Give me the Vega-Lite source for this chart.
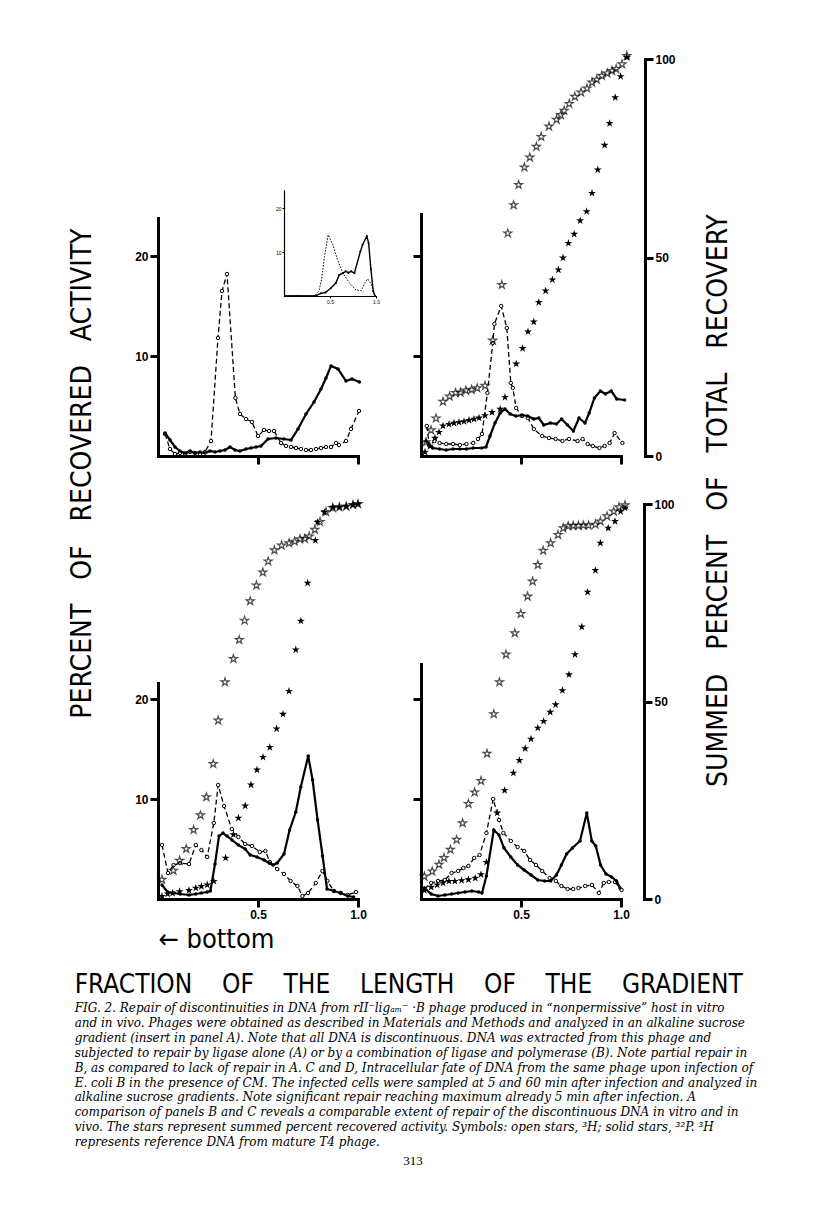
{
  "$schema": "https://vega.github.io/schema/vega-lite/v6.json",
  "background": "white",
  "padding": {"left": 68, "top": 49, "right": 5, "bottom": 5},
  "config": {
    "view": {"stroke": null},
    "axis": {"domainColor": "black", "domainWidth": 3, "tickColor": "black", "tickWidth": 3, "tickSize": 8, "labelColor": "black", "labelFont": "Liberation Sans", "labelFontWeight": "bold", "labelFontSize": 12, "grid": false, "labelPadding": 2, "labelFlush": false, "domainCap": "square"},
    "title": {"color": "black", "fontWeight": "normal", "subtitleColor": "black"}
  },
  "datasets": {
    "A3H": [{"x":0.035,"y":2.2},{"x":0.06,"y":0.7},{"x":0.085,"y":0.2},{"x":0.11,"y":0.3},{"x":0.135,"y":0.2},{"x":0.16,"y":0.4},{"x":0.185,"y":0.3},{"x":0.21,"y":0.2},{"x":0.235,"y":0.4},{"x":0.265,"y":1.5},{"x":0.3,"y":11.8},{"x":0.32,"y":16.5},{"x":0.345,"y":18.2},{"x":0.387,"y":5.8},{"x":0.41,"y":4.2},{"x":0.44,"y":3.7},{"x":0.47,"y":3.4},{"x":0.5,"y":2.0},{"x":0.53,"y":2.6},{"x":0.555,"y":2.5},{"x":0.58,"y":2.5},{"x":0.615,"y":1.3},{"x":0.64,"y":1.0},{"x":0.665,"y":0.9},{"x":0.69,"y":0.8},{"x":0.715,"y":0.7},{"x":0.74,"y":0.6},{"x":0.765,"y":0.6},{"x":0.79,"y":0.7},{"x":0.815,"y":0.8},{"x":0.84,"y":0.9},{"x":0.865,"y":0.9},{"x":0.89,"y":1.3},{"x":0.905,"y":1.1},{"x":0.94,"y":1.5},{"x":0.965,"y":2.7},{"x":1.005,"y":4.5}],
    "A32P": [{"x":0.035,"y":2.3},{"x":0.06,"y":1.6},{"x":0.085,"y":0.9},{"x":0.11,"y":0.5},{"x":0.135,"y":0.3},{"x":0.16,"y":0.5},{"x":0.185,"y":0.3},{"x":0.21,"y":0.4},{"x":0.235,"y":0.3},{"x":0.26,"y":0.5},{"x":0.285,"y":0.4},{"x":0.31,"y":0.5},{"x":0.335,"y":0.6},{"x":0.36,"y":0.9},{"x":0.385,"y":0.6},{"x":0.41,"y":0.5},{"x":0.44,"y":0.7},{"x":0.465,"y":0.8},{"x":0.49,"y":0.9},{"x":0.515,"y":1.0},{"x":0.55,"y":1.7},{"x":0.59,"y":1.8},{"x":0.63,"y":1.7},{"x":0.665,"y":1.6},{"x":0.7,"y":2.7},{"x":0.74,"y":4.2},{"x":0.78,"y":5.4},{"x":0.815,"y":6.7},{"x":0.84,"y":7.8},{"x":0.865,"y":9.0},{"x":0.9,"y":8.7},{"x":0.94,"y":7.5},{"x":0.97,"y":7.7},{"x":1.007,"y":7.4}],
    "I3H": [{"x":0.02,"y":0},{"x":0.06,"y":0},{"x":0.1,"y":0},{"x":0.14,"y":0},{"x":0.18,"y":0},{"x":0.22,"y":0},{"x":0.26,"y":0},{"x":0.3,"y":0},{"x":0.34,"y":0.2},{"x":0.38,"y":1.1},{"x":0.41,"y":4},{"x":0.44,"y":9},{"x":0.48,"y":13.9},{"x":0.53,"y":11.7},{"x":0.58,"y":8.3},{"x":0.64,"y":5.2},{"x":0.71,"y":3.0},{"x":0.78,"y":1.4},{"x":0.84,"y":1.2},{"x":0.88,"y":3.0},{"x":0.91,"y":3.9},{"x":0.95,"y":2.6},{"x":0.98,"y":0.5}],
    "I32P": [{"x":0.02,"y":0},{"x":0.05,"y":0},{"x":0.08,"y":0},{"x":0.11,"y":0},{"x":0.14,"y":0},{"x":0.17,"y":0},{"x":0.2,"y":0},{"x":0.23,"y":0},{"x":0.26,"y":0},{"x":0.29,"y":0},{"x":0.32,"y":0},{"x":0.35,"y":0.1},{"x":0.4,"y":0.6},{"x":0.45,"y":0.8},{"x":0.51,"y":1.8},{"x":0.565,"y":3.0},{"x":0.6,"y":4.8},{"x":0.64,"y":5.2},{"x":0.67,"y":5.6},{"x":0.7,"y":5.3},{"x":0.73,"y":5.6},{"x":0.765,"y":5.2},{"x":0.83,"y":10.1},{"x":0.855,"y":11.7},{"x":0.9,"y":13.6},{"x":0.92,"y":12.0},{"x":0.945,"y":6.0},{"x":0.97,"y":1.1},{"x":0.99,"y":0}],
    "B3H": [{"x":0.029,"y":3.0},{"x":0.042,"y":1.0},{"x":0.067,"y":1.5},{"x":0.093,"y":1.3},{"x":0.126,"y":1.2},{"x":0.16,"y":1.2},{"x":0.194,"y":1.1},{"x":0.227,"y":1.2},{"x":0.261,"y":1.3},{"x":0.285,"y":1.7},{"x":0.305,"y":2.2},{"x":0.332,"y":6.3},{"x":0.359,"y":11.3},{"x":0.367,"y":13.2},{"x":0.401,"y":15.0},{"x":0.429,"y":12.8},{"x":0.449,"y":7.3},{"x":0.459,"y":6.8},{"x":0.476,"y":4.8},{"x":0.505,"y":4.0},{"x":0.534,"y":3.8},{"x":0.564,"y":2.7},{"x":0.606,"y":2.0},{"x":0.64,"y":1.8},{"x":0.673,"y":1.7},{"x":0.707,"y":1.5},{"x":0.74,"y":1.7},{"x":0.783,"y":1.5},{"x":0.808,"y":1.7},{"x":0.833,"y":1.2},{"x":0.859,"y":1.0},{"x":0.892,"y":0.8},{"x":0.918,"y":1.0},{"x":0.943,"y":1.3},{"x":0.968,"y":2.3},{"x":1.007,"y":1.3}],
    "B32P": [{"x":0.025,"y":1.5},{"x":0.059,"y":0.8},{"x":0.093,"y":0.7},{"x":0.126,"y":0.6},{"x":0.16,"y":0.7},{"x":0.194,"y":0.7},{"x":0.227,"y":0.7},{"x":0.261,"y":0.8},{"x":0.303,"y":0.8},{"x":0.325,"y":0.9},{"x":0.345,"y":2.0},{"x":0.37,"y":3.3},{"x":0.396,"y":4.3},{"x":0.42,"y":4.7},{"x":0.446,"y":4.2},{"x":0.475,"y":4.0},{"x":0.505,"y":4.1},{"x":0.534,"y":4.0},{"x":0.564,"y":3.7},{"x":0.589,"y":3.8},{"x":0.614,"y":3.1},{"x":0.648,"y":3.3},{"x":0.677,"y":3.2},{"x":0.703,"y":3.7},{"x":0.732,"y":3.1},{"x":0.762,"y":2.5},{"x":0.79,"y":3.8},{"x":0.82,"y":3.3},{"x":0.841,"y":4.3},{"x":0.867,"y":5.8},{"x":0.897,"y":6.5},{"x":0.922,"y":6.2},{"x":0.951,"y":6.5},{"x":0.979,"y":5.7},{"x":1.018,"y":5.6}],
    "BS3H": [{"x":0.025,"y":3.5},{"x":0.05,"y":6.5},{"x":0.075,"y":9.5},{"x":0.11,"y":13.7},{"x":0.143,"y":15.0},{"x":0.173,"y":15.9},{"x":0.197,"y":16.0},{"x":0.224,"y":16.5},{"x":0.253,"y":16.7},{"x":0.281,"y":17.1},{"x":0.32,"y":17.7},{"x":0.359,"y":29.1},{"x":0.404,"y":43.1},{"x":0.434,"y":56.1},{"x":0.463,"y":63.2},{"x":0.488,"y":68.3},{"x":0.517,"y":72.7},{"x":0.544,"y":75.2},{"x":0.577,"y":77.9},{"x":0.601,"y":80.4},{"x":0.64,"y":83.0},{"x":0.678,"y":84.7},{"x":0.699,"y":85.9},{"x":0.716,"y":87.0},{"x":0.741,"y":88.7},{"x":0.769,"y":90.5},{"x":0.8,"y":91.6},{"x":0.83,"y":92.6},{"x":0.855,"y":94.1},{"x":0.879,"y":94.8},{"x":0.904,"y":95.8},{"x":0.931,"y":96.4},{"x":0.955,"y":97.0},{"x":0.976,"y":97.5},{"x":1.005,"y":98.7},{"x":1.029,"y":100.8}],
    "BS32P": [{"x":0.02,"y":1.0},{"x":0.045,"y":2.5},{"x":0.07,"y":4.5},{"x":0.09,"y":6.0},{"x":0.11,"y":7.6},{"x":0.14,"y":8.0},{"x":0.165,"y":8.3},{"x":0.19,"y":8.5},{"x":0.215,"y":8.7},{"x":0.24,"y":9.0},{"x":0.265,"y":9.3},{"x":0.29,"y":9.6},{"x":0.32,"y":10.2},{"x":0.355,"y":11.0},{"x":0.396,"y":11.8},{"x":0.42,"y":14.8},{"x":0.476,"y":23.2},{"x":0.508,"y":27.1},{"x":0.535,"y":31.3},{"x":0.564,"y":33.8},{"x":0.589,"y":38.7},{"x":0.623,"y":41.6},{"x":0.657,"y":44.4},{"x":0.687,"y":46.9},{"x":0.71,"y":49.9},{"x":0.737,"y":53.6},{"x":0.766,"y":55.9},{"x":0.796,"y":59.3},{"x":0.828,"y":61.6},{"x":0.855,"y":66.2},{"x":0.884,"y":72.1},{"x":0.918,"y":78.3},{"x":0.943,"y":83.8},{"x":0.971,"y":90.3},{"x":0.998,"y":95.6},{"x":1.029,"y":100.4}],
    "C3H": [{"x":0.02,"y":5.4},{"x":0.05,"y":2.6},{"x":0.078,"y":3.4},{"x":0.111,"y":3.6},{"x":0.155,"y":3.5},{"x":0.189,"y":5.4},{"x":0.217,"y":4.9},{"x":0.246,"y":4.2},{"x":0.279,"y":7.6},{"x":0.301,"y":11.4},{"x":0.33,"y":9.3},{"x":0.369,"y":7.0},{"x":0.402,"y":6.2},{"x":0.436,"y":5.5},{"x":0.47,"y":5.3},{"x":0.509,"y":4.7},{"x":0.537,"y":4.8},{"x":0.559,"y":3.7},{"x":0.596,"y":3.0},{"x":0.63,"y":2.5},{"x":0.663,"y":1.8},{"x":0.697,"y":1.3},{"x":0.722,"y":0.3},{"x":0.75,"y":0.6},{"x":0.789,"y":1.6},{"x":0.822,"y":2.8},{"x":0.847,"y":1.8},{"x":0.88,"y":0.8},{"x":0.914,"y":0.6},{"x":0.948,"y":0.4},{"x":0.99,"y":0.7}],
    "C32P": [{"x":0.02,"y":1.4},{"x":0.048,"y":0.7},{"x":0.078,"y":0.6},{"x":0.111,"y":0.5},{"x":0.155,"y":0.4},{"x":0.189,"y":0.5},{"x":0.217,"y":0.6},{"x":0.246,"y":0.7},{"x":0.262,"y":0.8},{"x":0.285,"y":3.5},{"x":0.305,"y":6.3},{"x":0.325,"y":6.6},{"x":0.345,"y":6.3},{"x":0.37,"y":5.9},{"x":0.402,"y":5.4},{"x":0.436,"y":5.0},{"x":0.461,"y":4.4},{"x":0.495,"y":4.2},{"x":0.53,"y":3.9},{"x":0.556,"y":3.6},{"x":0.575,"y":3.4},{"x":0.596,"y":3.6},{"x":0.63,"y":4.5},{"x":0.658,"y":6.9},{"x":0.689,"y":8.7},{"x":0.714,"y":11.2},{"x":0.751,"y":14.3},{"x":0.773,"y":11.9},{"x":0.798,"y":7.9},{"x":0.823,"y":4.3},{"x":0.845,"y":1.0},{"x":0.88,"y":0.8},{"x":0.914,"y":0.6},{"x":0.948,"y":0.3},{"x":0.978,"y":0.2}],
    "CS3H": [{"x":0.02,"y":4.9},{"x":0.077,"y":7.2},{"x":0.108,"y":9.7},{"x":0.141,"y":12.7},{"x":0.178,"y":17.5},{"x":0.212,"y":21.2},{"x":0.242,"y":25.8},{"x":0.276,"y":34.2},{"x":0.301,"y":45.2},{"x":0.335,"y":54.9},{"x":0.377,"y":60.8},{"x":0.406,"y":65.6},{"x":0.433,"y":70.5},{"x":0.461,"y":75.4},{"x":0.492,"y":79.4},{"x":0.524,"y":82.7},{"x":0.551,"y":85.5},{"x":0.582,"y":88.3},{"x":0.618,"y":89.5},{"x":0.655,"y":90.1},{"x":0.683,"y":90.5},{"x":0.71,"y":91.1},{"x":0.734,"y":91.2},{"x":0.756,"y":91.8},{"x":0.784,"y":93.5},{"x":0.81,"y":95.5},{"x":0.84,"y":98.0},{"x":0.874,"y":99.0},{"x":0.907,"y":99.2},{"x":0.941,"y":99.4},{"x":0.975,"y":99.8},{"x":1.0,"y":100}],
    "CS32P": [{"x":0.02,"y":0.7},{"x":0.048,"y":1.3},{"x":0.073,"y":1.5},{"x":0.108,"y":1.9},{"x":0.155,"y":2.2},{"x":0.189,"y":2.8},{"x":0.217,"y":3.2},{"x":0.246,"y":3.6},{"x":0.279,"y":4.5},{"x":0.338,"y":10.4},{"x":0.377,"y":16.3},{"x":0.402,"y":20.5},{"x":0.436,"y":23.6},{"x":0.465,"y":28.9},{"x":0.495,"y":32.7},{"x":0.525,"y":35.9},{"x":0.559,"y":38.4},{"x":0.593,"y":43.1},{"x":0.625,"y":46.8},{"x":0.655,"y":52.6},{"x":0.689,"y":63.1},{"x":0.714,"y":70.4},{"x":0.748,"y":80.0},{"x":0.787,"y":90.8},{"x":0.798,"y":95.4},{"x":0.832,"y":97.9},{"x":0.874,"y":99.2},{"x":0.907,"y":99.2},{"x":0.941,"y":99.4},{"x":0.975,"y":99.8},{"x":1.0,"y":100}],
    "D3H": [{"x":0.017,"y":1.0},{"x":0.051,"y":1.6},{"x":0.085,"y":1.8},{"x":0.119,"y":1.9},{"x":0.153,"y":2.6},{"x":0.186,"y":2.8},{"x":0.212,"y":3.1},{"x":0.237,"y":3.3},{"x":0.266,"y":4.1},{"x":0.293,"y":4.4},{"x":0.327,"y":6.6},{"x":0.361,"y":10.0},{"x":0.39,"y":7.9},{"x":0.412,"y":6.6},{"x":0.449,"y":5.8},{"x":0.483,"y":5.2},{"x":0.516,"y":4.8},{"x":0.545,"y":3.9},{"x":0.575,"y":3.4},{"x":0.606,"y":2.8},{"x":0.643,"y":2.1},{"x":0.674,"y":1.8},{"x":0.702,"y":1.3},{"x":0.733,"y":1.0},{"x":0.761,"y":1.0},{"x":0.787,"y":1.1},{"x":0.821,"y":1.3},{"x":0.855,"y":1.4},{"x":0.889,"y":0.6},{"x":0.914,"y":1.6},{"x":0.939,"y":1.7},{"x":0.97,"y":1.7},{"x":1.003,"y":0.9}],
    "D32P": [{"x":0.017,"y":1.1},{"x":0.051,"y":0.5},{"x":0.085,"y":0.3},{"x":0.119,"y":0.4},{"x":0.153,"y":0.5},{"x":0.186,"y":0.6},{"x":0.22,"y":0.7},{"x":0.254,"y":0.8},{"x":0.288,"y":0.7},{"x":0.305,"y":0.6},{"x":0.327,"y":2.3},{"x":0.364,"y":6.9},{"x":0.39,"y":6.4},{"x":0.415,"y":5.1},{"x":0.449,"y":4.2},{"x":0.483,"y":3.4},{"x":0.516,"y":2.9},{"x":0.55,"y":2.4},{"x":0.584,"y":1.9},{"x":0.618,"y":1.8},{"x":0.648,"y":1.8},{"x":0.677,"y":2.4},{"x":0.702,"y":3.4},{"x":0.728,"y":4.5},{"x":0.757,"y":5.1},{"x":0.795,"y":5.8},{"x":0.829,"y":8.6},{"x":0.854,"y":5.8},{"x":0.874,"y":5.3},{"x":0.898,"y":3.4},{"x":0.925,"y":2.5},{"x":0.953,"y":2.2},{"x":0.978,"y":1.8},{"x":0.995,"y":1.1}],
    "DS3H": [{"x":0.017,"y":5.7},{"x":0.056,"y":7.0},{"x":0.09,"y":8.7},{"x":0.115,"y":10.4},{"x":0.147,"y":12.5},{"x":0.178,"y":15.0},{"x":0.208,"y":19.2},{"x":0.237,"y":24.1},{"x":0.268,"y":27.0},{"x":0.3,"y":29.9},{"x":0.33,"y":36.8},{"x":0.364,"y":46.8},{"x":0.392,"y":54.9},{"x":0.425,"y":61.9},{"x":0.469,"y":67.3},{"x":0.499,"y":72.2},{"x":0.533,"y":76.6},{"x":0.558,"y":80.4},{"x":0.584,"y":84.6},{"x":0.611,"y":88.2},{"x":0.648,"y":90.1},{"x":0.685,"y":92.2},{"x":0.711,"y":93.9},{"x":0.736,"y":94.4},{"x":0.761,"y":94.5},{"x":0.787,"y":94.5},{"x":0.812,"y":94.6},{"x":0.838,"y":94.6},{"x":0.872,"y":94.8},{"x":0.897,"y":95.6},{"x":0.93,"y":96.9},{"x":0.964,"y":98.1},{"x":0.99,"y":99.2},{"x":1.02,"y":99.7}],
    "DS32P": [{"x":0.017,"y":2.2},{"x":0.051,"y":3.0},{"x":0.081,"y":3.6},{"x":0.11,"y":4.1},{"x":0.14,"y":4.5},{"x":0.169,"y":4.5},{"x":0.203,"y":4.7},{"x":0.237,"y":4.9},{"x":0.271,"y":5.3},{"x":0.3,"y":6.2},{"x":0.327,"y":9.3},{"x":0.381,"y":21.8},{"x":0.418,"y":27.5},{"x":0.462,"y":31.9},{"x":0.492,"y":35.1},{"x":0.521,"y":38.1},{"x":0.55,"y":40.5},{"x":0.584,"y":43.3},{"x":0.613,"y":45.0},{"x":0.646,"y":47.3},{"x":0.673,"y":49.2},{"x":0.707,"y":52.8},{"x":0.74,"y":56.8},{"x":0.77,"y":61.9},{"x":0.804,"y":68.9},{"x":0.833,"y":77.7},{"x":0.872,"y":83.2},{"x":0.897,"y":90.1},{"x":0.936,"y":93.9},{"x":0.97,"y":95.6},{"x":0.998,"y":98.1},{"x":1.02,"y":99.0}]
  },
  "title": {"text": "313", "orient": "bottom", "anchor": "middle", "font": "Liberation Serif", "fontSize": 13, "offset": 7},
  "vconcat": [
    {
      "title": {
        "text": "\u00a0\u00a0FRACTION\u00a0\u00a0\u00a0\u00a0OF\u00a0\u00a0\u00a0\u00a0THE\u00a0\u00a0\u00a0\u00a0LENGTH\u00a0\u00a0\u00a0\u00a0OF\u00a0\u00a0\u00a0\u00a0THE\u00a0\u00a0\u00a0\u00a0GRADIENT",
        "orient": "bottom", "anchor": "start", "align": "left", "dx": 6,
        "font": "Liberation Sans Narrow, DejaVu Sans Condensed, Liberation Sans, sans-serif", "fontSize": 26, "offset": 20,
        "subtitle": [
          "\u00a0\u00a0\u00a0\u00a0FIG. 2. Repair of discontinuities in DNA from rII\u207bligₐₘ\u207b \u00b7B phage produced in \u201cnonpermissive\u201d host in vitro",
          "and in vivo. Phages were obtained as described in Materials and Methods and analyzed in an alkaline sucrose",
          "gradient (insert in panel A). Note that all DNA is discontinuous. DNA was extracted from this phage and",
          "subjected to repair by ligase alone (A) or by a combination of ligase and polymerase (B). Note partial repair in",
          "B, as compared to lack of repair in A. C and D, Intracellular fate of DNA from the same phage upon infection of",
          "E. coli B in the presence of CM. The infected cells were sampled at 5 and 60 min after infection and analyzed in",
          "alkaline sucrose gradients. Note significant repair reaching maximum already 5 min after infection. A",
          "comparison of panels B and C reveals a comparable extent of repair of the discontinuous DNA in vitro and in",
          "vivo. The stars represent summed percent recovered activity. Symbols: open stars, \u00b3H; solid stars, \u00b3\u00b2P. \u00b3H",
          "represents reference DNA from mature T4 phage."
        ],
        "subtitleFont": "DejaVu Serif", "subtitleFontStyle": "italic", "subtitleFontSize": 12, "subtitleLineHeight": 14.9, "subtitlePadding": 5
      },
      "hconcat": [
        {
          "title": {"text": "SUMMED\u00a0\u00a0\u00a0PERCENT\u00a0\u00a0\u00a0OF\u00a0\u00a0\u00a0TOTAL\u00a0\u00a0\u00a0RECOVERY", "orient": "right", "anchor": "middle", "angle": 270, "font": "Liberation Sans Narrow, DejaVu Sans Condensed, Liberation Sans, sans-serif", "fontSize": 28, "offset": 2},
          "hconcat": [
            {
              "title": {"text": "PERCENT\u00a0\u00a0\u00a0OF\u00a0\u00a0\u00a0RECOVERED\u00a0\u00a0\u00a0ACTIVITY", "orient": "left", "anchor": "middle", "font": "Liberation Sans Narrow, DejaVu Sans Condensed, Liberation Sans, sans-serif", "fontSize": 28, "offset": 38, "dx": 27},
              "columns": 2,
              "spacing": {"row": 48, "column": 63},
              "bounds": "flush",
              "concat": [
                {
                  "width": 200, "height": 397,
                  "layer": [
                    {
                      "encoding": {
                        "x": {"field": "x", "type": "quantitative", "scale": {"domain": [0, 1], "nice": false, "zero": false}, "axis": {"values": [0.5, 1], "labels": false, "title": null}},
                        "y": {"field": "y", "type": "quantitative", "scale": {"domain": [0, 23.8], "range": [397, 159], "nice": false, "zero": false}, "axis": {"values": [10, 20], "title": null}}
                      },
                      "layer": [
                        {"data": {"name": "A3H"}, "mark": {"type": "line", "color": "black", "strokeWidth": 1.3, "strokeDash": [5, 3], "point": {"filled": false, "fill": "white", "size": 12, "strokeWidth": 1, "color": "black"}}},
                        {"data": {"name": "A32P"}, "mark": {"type": "line", "color": "black", "strokeWidth": 2.2, "point": {"filled": true, "size": 12, "color": "black"}}},
                        {"data": {"values": [{}]}, "mark": {"type": "text", "align": "left", "baseline": "middle", "font": "Liberation Sans", "fontWeight": "bold", "fontSize": 10.5, "color": "black"}, "encoding": {"x": {"datum": 0.04}, "y": {"datum": 23.5}, "text": {"value": "A.\u00a0\u00a0+ Ligase"}}},
                        {"data": {"values": [{}]}, "mark": {"type": "text", "align": "left", "baseline": "middle", "font": "Liberation Sans", "fontWeight": "bold", "fontSize": 11, "color": "black"}, "encoding": {"x": {"datum": 0.515}, "y": {"datum": 10.5}, "text": {"value": "\u00b3H"}}},
                        {"data": {"values": [{}]}, "mark": {"type": "text", "align": "left", "baseline": "middle", "font": "Liberation Sans", "fontWeight": "bold", "fontSize": 11, "color": "black"}, "encoding": {"x": {"datum": 1.03}, "y": {"datum": 9.8}, "text": {"value": "\u00b3\u00b2P"}}},
                        {"data": {"values": [{}]}, "mark": {"type": "rule", "color": "black", "strokeWidth": 1.3}, "encoding": {"x": {"datum": 0.505}, "x2": {"datum": 0.405}, "y": {"datum": 10.6}}},
                        {"data": {"values": [{}]}, "mark": {"type": "point", "shape": "triangle-left", "filled": true, "size": 28, "color": "black"}, "encoding": {"x": {"datum": 0.4}, "y": {"datum": 10.6}}},
                        {"data": {"values": [{}]}, "mark": {"type": "rule", "color": "black", "strokeWidth": 1.3}, "encoding": {"x": {"datum": 1.023}, "x2": {"datum": 0.925}, "y": {"datum": 9.2}, "y2": {"datum": 8.7}}},
                        {"data": {"values": [{}]}, "mark": {"type": "point", "shape": "triangle-left", "filled": true, "size": 28, "color": "black", "angle": 347}, "encoding": {"x": {"datum": 0.92}, "y": {"datum": 8.68}}}
                      ]
                    },
                    {
                      "encoding": {
                        "x": {"field": "x", "type": "quantitative", "scale": {"domain": [0, 1], "range": [126, 218], "nice": false, "zero": false}, "axis": {"orient": "bottom", "offset": -160, "values": [0.5, 1], "format": ".1f", "title": null, "labelFontSize": 5, "labelFontWeight": "normal", "tickSize": 2, "tickWidth": 1, "domainWidth": 1.2, "labelPadding": 1}},
                        "y": {"field": "y", "type": "quantitative", "scale": {"domain": [0, 24], "range": [237, 131.4], "nice": false, "zero": false}, "axis": {"orient": "left", "offset": -126, "values": [10, 20], "title": null, "labelFontSize": 5, "labelFontWeight": "normal", "tickSize": 2, "tickWidth": 1, "domainWidth": 1.2, "labelPadding": 1}}
                      },
                      "layer": [
                        {"data": {"name": "I3H"}, "mark": {"type": "line", "color": "black", "strokeWidth": 1, "strokeDash": [1.5, 1.5]}},
                        {"data": {"name": "I32P"}, "mark": {"type": "line", "color": "black", "strokeWidth": 1.4, "point": {"filled": true, "size": 4, "color": "black"}}},
                        {"data": {"values": [{}]}, "mark": {"type": "text", "align": "left", "baseline": "middle", "font": "Liberation Sans", "fontWeight": "bold", "fontSize": 5, "color": "black"}, "encoding": {"x": {"datum": 0.08}, "y": {"datum": 23.3}, "text": {"value": "Parental Phage"}}},
                        {"data": {"values": [{}]}, "mark": {"type": "text", "align": "left", "baseline": "middle", "font": "Liberation Sans", "fontWeight": "bold", "fontSize": 5, "color": "black"}, "encoding": {"x": {"datum": 0.63}, "y": {"datum": 14.4}, "text": {"value": "\u00b3H"}}},
                        {"data": {"values": [{}]}, "mark": {"type": "text", "align": "left", "baseline": "middle", "font": "Liberation Sans", "fontWeight": "bold", "fontSize": 5, "color": "black"}, "encoding": {"x": {"datum": 1.07}, "y": {"datum": 11.8}, "text": {"value": "\u00b3\u00b2P"}}},
                        {"data": {"values": [{}]}, "mark": {"type": "rule", "color": "black", "strokeWidth": 0.8}, "encoding": {"x": {"datum": 0.62}, "x2": {"datum": 0.55}, "y": {"datum": 13.8}, "y2": {"datum": 12.4}}},
                        {"data": {"values": [{}]}, "mark": {"type": "rule", "color": "black", "strokeWidth": 0.8}, "encoding": {"x": {"datum": 1.06}, "x2": {"datum": 0.95}, "y": {"datum": 11.2}, "y2": {"datum": 9.9}}}
                      ]
                    }
                  ],
                  "resolve": {"scale": {"x": "independent", "y": "independent"}, "axis": {"x": "independent", "y": "independent"}}
                },
                {
                  "width": 200, "height": 397,
                  "encoding": {"x": {"field": "x", "type": "quantitative", "scale": {"domain": [0, 1], "nice": false, "zero": false}, "axis": {"values": [0.5, 1], "labels": false, "title": null}}},
                  "layer": [
                    {
                      "encoding": {"y": {"field": "y", "type": "quantitative", "scale": {"domain": [0, 24.2], "range": [397, 155], "nice": false, "zero": false}, "axis": {"values": [10, 20], "labels": false, "title": null}}},
                      "layer": [
                        {"data": {"name": "B3H"}, "mark": {"type": "line", "color": "black", "strokeWidth": 1.3, "strokeDash": [5, 3], "point": {"filled": false, "fill": "white", "size": 12, "strokeWidth": 1, "color": "black"}}},
                        {"data": {"name": "B32P"}, "mark": {"type": "line", "color": "black", "strokeWidth": 2.2, "point": {"filled": true, "size": 12, "color": "black"}}},
                        {"data": {"values": [{}]}, "mark": {"type": "text", "align": "left", "baseline": "middle", "font": "Liberation Sans", "fontWeight": "bold", "fontSize": 10.5, "color": "black"}, "encoding": {"x": {"datum": 0.06}, "y": {"datum": 23.3}, "text": {"value": "B."}}},
                        {"data": {"values": [{}]}, "mark": {"type": "text", "align": "left", "baseline": "middle", "font": "Liberation Sans", "fontWeight": "bold", "fontSize": 10.5, "color": "black"}, "encoding": {"x": {"datum": 0.06}, "y": {"datum": 20.6}, "text": {"value": "+ Ligase"}}},
                        {"data": {"values": [{}]}, "mark": {"type": "text", "align": "left", "baseline": "middle", "font": "Liberation Sans", "fontWeight": "bold", "fontSize": 10.5, "color": "black"}, "encoding": {"x": {"datum": 0.06}, "y": {"datum": 18.8}, "text": {"value": "+ Polymerase"}}}
                      ]
                    },
                    {
                      "encoding": {"y": {"field": "y", "type": "quantitative", "scale": {"domain": [0, 100], "nice": false, "zero": false}, "axis": {"orient": "right", "offset": 24, "values": [0, 50, 100], "title": null}}},
                      "layer": [
                        {"data": {"name": "BS3H"}, "mark": {"type": "point", "shape": "M0,-1L0.2245,-0.309L0.951,-0.309L0.363,0.118L0.588,0.809L0,0.382L-0.588,0.809L-0.363,0.118L-0.951,-0.309L-0.2245,-0.309Z", "filled": false, "size": 70, "strokeWidth": 1.2, "color": "black"}},
                        {"data": {"name": "BS32P"}, "mark": {"type": "point", "shape": "M0,-1L0.2245,-0.309L0.951,-0.309L0.363,0.118L0.588,0.809L0,0.382L-0.588,0.809L-0.363,0.118L-0.951,-0.309L-0.2245,-0.309Z", "filled": true, "size": 70, "color": "black", "opacity": 1}}
                      ]
                    }
                  ],
                  "resolve": {"scale": {"y": "independent"}, "axis": {"y": "independent"}}
                },
                {
                  "width": 200, "height": 395,
                  "encoding": {"x": {"field": "x", "type": "quantitative", "scale": {"domain": [0, 1], "nice": false, "zero": false}, "axis": {"values": [0.5, 1], "format": ".1f", "title": "\u2190 bottom", "titleAnchor": "start", "titleAlign": "left", "titleFont": "Liberation Sans Narrow, DejaVu Sans Condensed, Liberation Sans, sans-serif", "titleFontSize": 27, "titleFontWeight": "normal", "titleColor": "black", "titlePadding": 6}}},
                  "layer": [
                    {
                      "encoding": {"y": {"field": "y", "type": "quantitative", "scale": {"domain": [0, 21.6], "range": [395, 179], "nice": false, "zero": false}, "axis": {"values": [10, 20], "title": null}}},
                      "layer": [
                        {"data": {"name": "C3H"}, "mark": {"type": "line", "color": "black", "strokeWidth": 1.3, "strokeDash": [5, 3], "point": {"filled": false, "fill": "white", "size": 12, "strokeWidth": 1, "color": "black"}}},
                        {"data": {"name": "C32P"}, "mark": {"type": "line", "color": "black", "strokeWidth": 2.2, "point": {"filled": true, "size": 12, "color": "black"}}},
                        {"data": {"values": [{}]}, "mark": {"type": "text", "align": "left", "baseline": "middle", "font": "Liberation Sans", "fontWeight": "bold", "fontSize": 10.5, "color": "black"}, "encoding": {"x": {"datum": 0.025}, "y": {"datum": 21.9}, "text": {"value": "C."}}},
                        {"data": {"values": [{}]}, "mark": {"type": "text", "align": "left", "baseline": "middle", "font": "Liberation Sans", "fontWeight": "bold", "fontSize": 10.5, "color": "black"}, "encoding": {"x": {"datum": 0.13}, "y": {"datum": 20.4}, "text": {"value": "Intracellular\u00a0\u00a05'"}}}
                      ]
                    },
                    {
                      "encoding": {"y": {"field": "y", "type": "quantitative", "scale": {"domain": [0, 100], "nice": false, "zero": false}, "axis": null}},
                      "layer": [
                        {"data": {"name": "CS3H"}, "mark": {"type": "point", "shape": "M0,-1L0.2245,-0.309L0.951,-0.309L0.363,0.118L0.588,0.809L0,0.382L-0.588,0.809L-0.363,0.118L-0.951,-0.309L-0.2245,-0.309Z", "filled": false, "size": 70, "strokeWidth": 1.2, "color": "black"}},
                        {"data": {"name": "CS32P"}, "mark": {"type": "point", "shape": "M0,-1L0.2245,-0.309L0.951,-0.309L0.363,0.118L0.588,0.809L0,0.382L-0.588,0.809L-0.363,0.118L-0.951,-0.309L-0.2245,-0.309Z", "filled": true, "size": 70, "color": "black", "opacity": 1}}
                      ]
                    }
                  ],
                  "resolve": {"scale": {"y": "independent"}, "axis": {"y": "independent"}}
                },
                {
                  "width": 200, "height": 395,
                  "encoding": {"x": {"field": "x", "type": "quantitative", "scale": {"domain": [0, 1], "nice": false, "zero": false}, "axis": {"values": [0.5, 1], "format": ".1f", "title": null}}},
                  "layer": [
                    {
                      "encoding": {"y": {"field": "y", "type": "quantitative", "scale": {"domain": [0, 23.5], "range": [395, 160], "nice": false, "zero": false}, "axis": {"values": [10, 20], "labels": false, "title": null}}},
                      "layer": [
                        {"data": {"name": "D3H"}, "mark": {"type": "line", "color": "black", "strokeWidth": 1.3, "strokeDash": [5, 3], "point": {"filled": false, "fill": "white", "size": 12, "strokeWidth": 1, "color": "black"}}},
                        {"data": {"name": "D32P"}, "mark": {"type": "line", "color": "black", "strokeWidth": 2.2, "point": {"filled": true, "size": 12, "color": "black"}}},
                        {"data": {"values": [{}]}, "mark": {"type": "text", "align": "left", "baseline": "middle", "font": "Liberation Sans", "fontWeight": "bold", "fontSize": 10.5, "color": "black"}, "encoding": {"x": {"datum": 0.06}, "y": {"datum": 23.2}, "text": {"value": "D."}}},
                        {"data": {"values": [{}]}, "mark": {"type": "text", "align": "left", "baseline": "middle", "font": "Liberation Sans", "fontWeight": "bold", "fontSize": 10.5, "color": "black"}, "encoding": {"x": {"datum": 0.075}, "y": {"datum": 19.8}, "text": {"value": "Intracellular\u00a0\u00a060'"}}}
                      ]
                    },
                    {
                      "encoding": {"y": {"field": "y", "type": "quantitative", "scale": {"domain": [0, 100], "nice": false, "zero": false}, "axis": {"orient": "right", "offset": 23, "values": [0, 50, 100], "title": null}}},
                      "layer": [
                        {"data": {"name": "DS3H"}, "mark": {"type": "point", "shape": "M0,-1L0.2245,-0.309L0.951,-0.309L0.363,0.118L0.588,0.809L0,0.382L-0.588,0.809L-0.363,0.118L-0.951,-0.309L-0.2245,-0.309Z", "filled": false, "size": 70, "strokeWidth": 1.2, "color": "black"}},
                        {"data": {"name": "DS32P"}, "mark": {"type": "point", "shape": "M0,-1L0.2245,-0.309L0.951,-0.309L0.363,0.118L0.588,0.809L0,0.382L-0.588,0.809L-0.363,0.118L-0.951,-0.309L-0.2245,-0.309Z", "filled": true, "size": 70, "color": "black", "opacity": 1}}
                      ]
                    }
                  ],
                  "resolve": {"scale": {"y": "independent"}, "axis": {"y": "independent"}}
                }
              ]
            }
          ]
        }
      ]
    }
  ]
}
